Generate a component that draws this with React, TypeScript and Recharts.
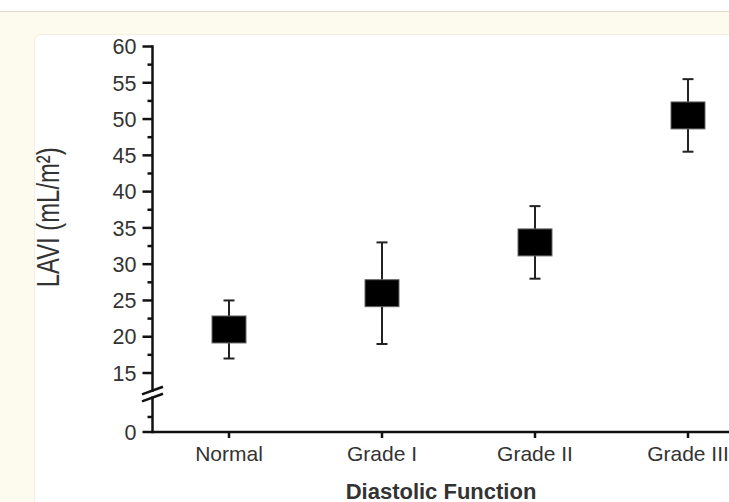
import React from "react";
import {
  ComposedChart,
  Scatter,
  ErrorBar,
  XAxis,
  YAxis,
  ReferenceArea,
  ReferenceLine,
  Label,
} from "recharts";

// ---- data ----
const CATEGORIES = ["Normal", "Grade I", "Grade II", "Grade III"];
const MEANS = [21, 26, 33, 50.5];
const LOWS = [17, 19, 28, 45.5];
const HIGHS = [25, 33, 38, 55.5];

// broken axis: the bottom of the domain is displayed as "0"
const Y_MIN = 6.87;
const Y_MAX = 60;
const MAJOR_TICKS = [Y_MIN, 15, 20, 25, 30, 35, 40, 45, 50, 55, 60];
const MAJOR_LABELS = ["0", "15", "20", "25", "30", "35", "40", "45", "50", "55", "60"];
const MINOR_TICKS = [8.94, 17.5, 22.5, 27.5, 32.5, 37.5, 42.5, 47.5, 52.5, 57.5];
const BREAK_VALUE = 12.1;
const BREAK_LOW = 11.6;
const BREAK_HIGH = 12.6;

const data = CATEGORIES.map((grade, i) => ({
  grade,
  mean: MEANS[i],
  err: [MEANS[i] - LOWS[i], HIGHS[i] - MEANS[i]],
}));

const FONT = "'Liberation Sans', Arial, sans-serif";
const AXIS_COLOR = "#111";
const TEXT_COLOR = "#333";
const TICK_SPACE = 16;

const YTick = (props: any) => {
  const { x, y, payload } = props;
  const idx = MAJOR_TICKS.indexOf(payload.value);
  const major = idx >= 0;
  const ax = x + TICK_SPACE;
  return (
    <g>
      <line
        x1={ax - (major ? 10 : 5)}
        x2={ax}
        y1={y}
        y2={y}
        stroke={AXIS_COLOR}
        strokeWidth={2.5}
      />
      {major && (
        <text
          x={x}
          y={y}
          dy="0.36em"
          textAnchor="end"
          fontSize={21.5}
          fontFamily={FONT}
          fill={TEXT_COLOR}
        >
          {MAJOR_LABELS[idx]}
        </text>
      )}
    </g>
  );
};

const AxisSegment = (props: any) => {
  const { x, y, height } = props;
  return (
    <line
      x1={x}
      x2={x}
      y1={y}
      y2={y + height}
      stroke={AXIS_COLOR}
      strokeWidth={2.5}
      strokeLinecap="square"
    />
  );
};

const BreakMark = (props: any) => {
  const x = Math.min(props.x1, props.x2);
  const y = props.y1;
  const c1 = y - 3.5;
  const c2 = y + 3.5;
  return (
    <g>
      <line x1={x - 10.5} y1={c1 + 3.8} x2={x + 10.5} y2={c1 - 3.8} stroke={AXIS_COLOR} strokeWidth={2.5} />
      <line x1={x - 10.5} y1={c2 + 3.8} x2={x + 10.5} y2={c2 - 3.8} stroke={AXIS_COLOR} strokeWidth={2.5} />
    </g>
  );
};

const Box = (props: any) => {
  const { cx, cy } = props;
  if (cx == null || cy == null) return null;
  return (
    <rect x={cx - 17} y={cy - 13.5} width={34} height={27} fill="#000" stroke="#666" strokeWidth={1} />
  );
};

const YLabel = (props: any) => {
  const vb = props.viewBox || { x: 0, y: 0, width: 0, height: 0 };
  const cy = vb.y + vb.height / 2 - 22;
  return (
    <text
      transform={`translate(${vb.x + 59}, ${cy}) rotate(-90)`}
      textAnchor="middle"
      fontSize={32}
      fontFamily={FONT}
      fill={TEXT_COLOR}
      textLength={140}
      lengthAdjust="spacingAndGlyphs"
    >
      LAVI (mL/m²)
    </text>
  );
};

const XLabel = (props: any) => {
  const vb = props.viewBox || { x: 0, y: 0, width: 0, height: 0 };
  return (
    <text
      x={vb.x + vb.width / 2 - 17.5}
      y={vb.y + vb.height - 3}
      textAnchor="middle"
      fontSize={22}
      fontWeight="bold"
      fontFamily={FONT}
      fill={TEXT_COLOR}
    >
      Diastolic Function
    </text>
  );
};

export default function App() {
  return (
    <div
      style={{
        position: "fixed",
        left: 0,
        top: 0,
        width: 729,
        height: 502,
        overflow: "hidden",
        background: "#fdfaee",
      }}
    >
      <div style={{ position: "absolute", left: 0, top: 0, width: 729, height: 11, background: "#fff" }} />
      <div style={{ position: "absolute", left: 0, top: 11, width: 729, height: 1, background: "#e4d6c6" }} />
      <div
        style={{
          position: "absolute",
          left: 35,
          top: 35,
          width: 760,
          height: 520,
          background: "#fff",
          borderRadius: 6,
          boxShadow: "0 0 0 1px #f6efdf",
        }}
      />
      <div style={{ position: "absolute", left: 0, top: 0 }}>
        <ComposedChart
          width={780}
          height={502}
          data={data}
          margin={{ top: 46.5, right: 15.5, bottom: 0, left: 0 }}
        >
          <XAxis
            dataKey="grade"
            type="category"
            scale="band"
            interval={0}
            height={70}
            axisLine={{ stroke: AXIS_COLOR, strokeWidth: 2.5 }}
            tickLine={{ stroke: AXIS_COLOR, strokeWidth: 2.5 }}
            tickSize={6}
            tickMargin={8}
            tick={{ fill: TEXT_COLOR, fontSize: 21, fontFamily: FONT }}
          >
            <Label content={<XLabel />} />
          </XAxis>
          <YAxis
            type="number"
            domain={[Y_MIN, Y_MAX]}
            ticks={[...MAJOR_TICKS, ...MINOR_TICKS]}
            interval={0}
            width={152.5}
            axisLine={false}
            tickLine={false}
            tickSize={0}
            tickMargin={TICK_SPACE}
            tick={(p: any) => <YTick {...p} />}
          >
            <Label content={<YLabel />} />
          </YAxis>
          <ReferenceArea y1={Y_MIN} y2={BREAK_LOW} shape={AxisSegment} ifOverflow="visible" />
          <ReferenceArea y1={BREAK_HIGH} y2={Y_MAX} shape={AxisSegment} ifOverflow="visible" />
          <ReferenceLine y={BREAK_VALUE} shape={BreakMark} ifOverflow="visible" />
          <Scatter dataKey="mean" shape={Box} isAnimationActive={false}>
            <ErrorBar dataKey="err" direction="y" width={5.5} stroke="#222" strokeWidth={2} />
          </Scatter>
        </ComposedChart>
      </div>
    </div>
  );
}
